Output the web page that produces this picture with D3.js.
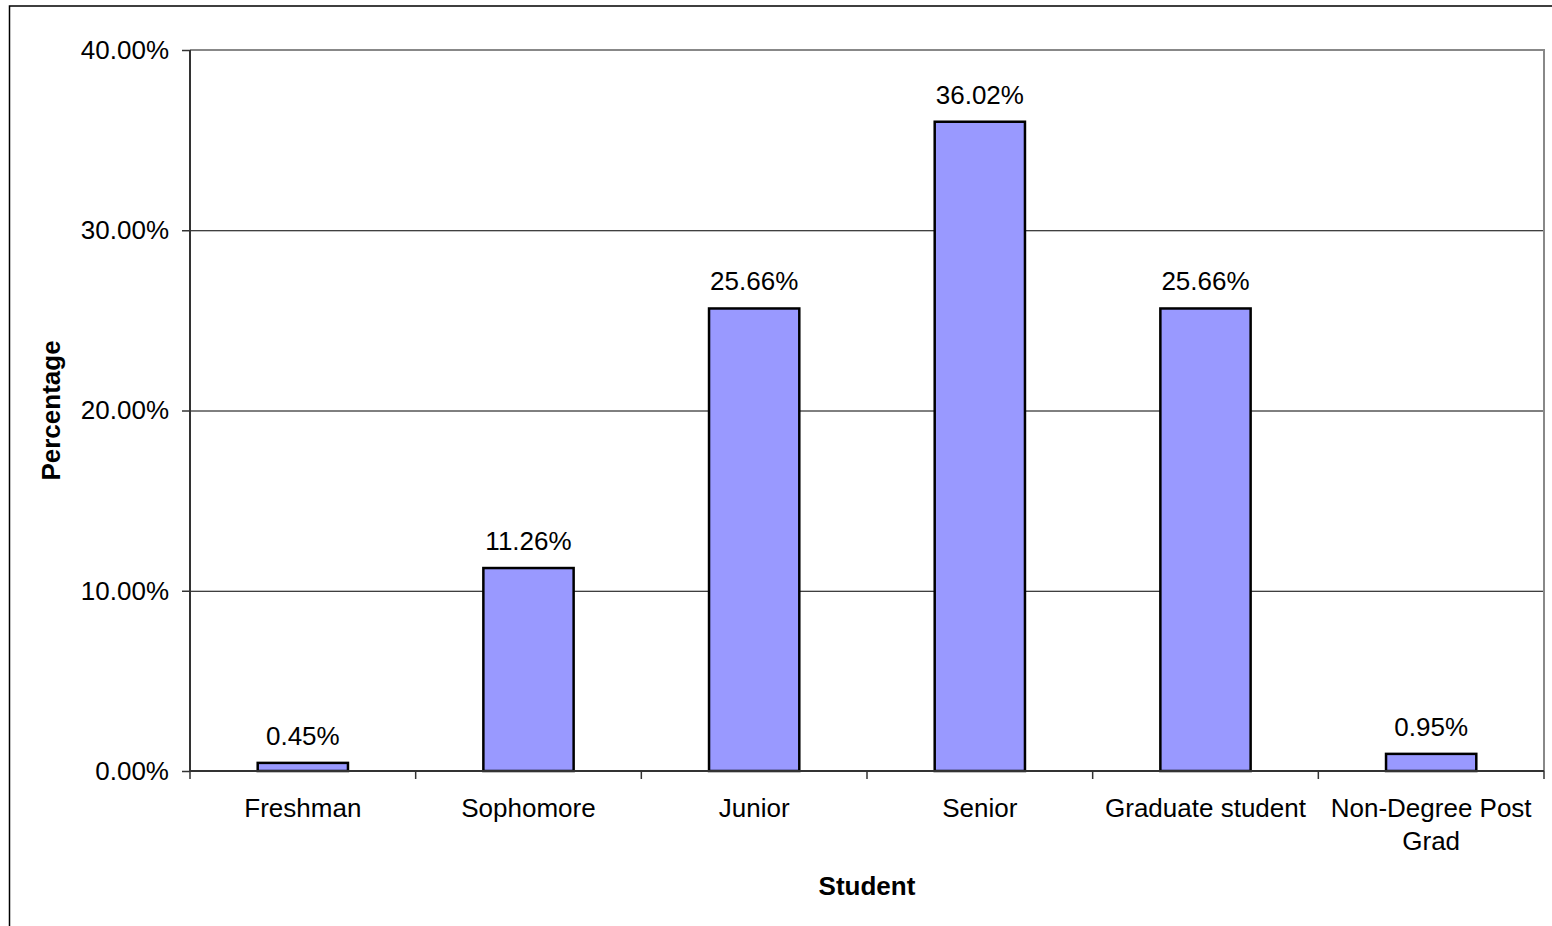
<!DOCTYPE html>
<html>
<head>
<meta charset="utf-8">
<script src="https://cdn.jsdelivr.net/npm/d3@7"></script>
<style>
  html, body { margin: 0; padding: 0; background: #fff; }
  svg { display: block; }
  text { font-family: "Liberation Sans", Arial, sans-serif; fill: #000; }
</style>
</head>
<body>
<svg id="chart" width="1552" height="926"></svg>
<script>
// Share of respondents by student classification
const categories = [
  ["Freshman"],
  ["Sophomore"],
  ["Junior"],
  ["Senior"],
  ["Graduate student"],
  ["Non-Degree Post", "Grad"]
];
const values = [0.45, 11.26, 25.66, 36.02, 25.66, 0.95];
const yTicks = [0, 10, 20, 30, 40];
const yTickLabels = ["0.00%", "10.00%", "20.00%", "30.00%", "40.00%"];
const xTitle = "Student";
const yTitle = "Percentage";

const svg = d3.select("#chart");
const W = 1552, H = 926;
const plot = { left: 190, right: 1544, top: 50, bottom: 771 };
const fontSize = 26;

// outer chart frame (runs off the right and bottom edges)
svg.append("rect")
  .attr("x", 9.5).attr("y", 6)
  .attr("width", W).attr("height", H)
  .attr("fill", "#fff").attr("stroke", "#000").attr("stroke-width", 1.5);

const x = d3.scaleBand()
  .domain(d3.range(categories.length))
  .range([plot.left, plot.right])
  .paddingInner(0.6).paddingOuter(0.3);

const y = d3.scaleLinear().domain([0, 40]).range([plot.bottom, plot.top]);

// horizontal gridlines
svg.append("g").selectAll("line")
  .data(yTicks.filter(t => t > 0 && t < 40))
  .join("line")
  .attr("x1", plot.left).attr("x2", plot.right)
  .attr("y1", d => y(d) + 0.5).attr("y2", d => y(d) + 0.5)
  .attr("stroke", "#000").attr("stroke-width", 1);

// plot area border (top and right)
svg.append("path")
  .attr("d", `M${plot.left},${plot.top}H${plot.right}V${plot.bottom}`)
  .attr("fill", "none").attr("stroke", "#888").attr("stroke-width", 2);

// bars
svg.append("g").selectAll("rect")
  .data(values)
  .join("rect")
  .attr("x", (d, i) => x(i))
  .attr("y", d => y(d))
  .attr("width", x.bandwidth())
  .attr("height", d => y(0) - y(d))
  .attr("fill", "#9999FF")
  .attr("stroke", "#000").attr("stroke-width", 2.5);

// value labels
svg.append("g").selectAll("text")
  .data(values)
  .join("text")
  .attr("x", (d, i) => x(i) + x.bandwidth() / 2)
  .attr("y", d => y(d) - 18)
  .attr("text-anchor", "middle")
  .attr("font-size", fontSize)
  .text(d => d.toFixed(2) + "%");

// y axis
const yAxis = d3.axisLeft(y)
  .tickValues(yTicks)
  .tickFormat((d, i) => yTickLabels[i])
  .tickSize(8).tickPadding(13);
const gy = svg.append("g").attr("transform", `translate(${plot.left},0)`).call(yAxis);
gy.select(".domain").attr("stroke", "#333").attr("stroke-width", 2).attr("d", `M0,${plot.top}V${plot.bottom}`);
gy.selectAll(".tick line").attr("stroke", "#333").attr("stroke-width", 1.5);
gy.selectAll(".tick text")
  .attr("font-size", fontSize)
  .attr("font-family", "Liberation Sans, Arial, sans-serif")
  .attr("fill", "#000");

// x axis: ticks at category boundaries
const step = (plot.right - plot.left) / categories.length;
const boundaries = d3.range(categories.length + 1).map(i => plot.left + i * step);
svg.append("line")
  .attr("x1", plot.left).attr("x2", plot.right)
  .attr("y1", plot.bottom).attr("y2", plot.bottom)
  .attr("stroke", "#333").attr("stroke-width", 2);
svg.append("g").selectAll("line")
  .data(boundaries)
  .join("line")
  .attr("x1", d => d).attr("x2", d => d)
  .attr("y1", plot.bottom).attr("y2", plot.bottom + 8)
  .attr("stroke", "#333").attr("stroke-width", 1.5);

// category labels
const catText = svg.append("g").selectAll("text")
  .data(categories)
  .join("text")
  .attr("x", (d, i) => x(i) + x.bandwidth() / 2)
  .attr("y", 817)
  .attr("text-anchor", "middle")
  .attr("font-size", fontSize);
catText.selectAll("tspan")
  .data(d => d)
  .join("tspan")
  .attr("x", function () { return d3.select(this.parentNode).attr("x"); })
  .attr("dy", (d, i) => i === 0 ? 0 : 33)
  .text(d => d);

// axis titles
svg.append("text")
  .attr("x", (plot.left + plot.right) / 2)
  .attr("y", 895)
  .attr("text-anchor", "middle")
  .attr("font-size", fontSize)
  .attr("font-weight", "bold")
  .text(xTitle);

svg.append("text")
  .attr("transform", `translate(60,${(plot.top + plot.bottom) / 2}) rotate(-90)`)
  .attr("text-anchor", "middle")
  .attr("font-size", fontSize)
  .attr("font-weight", "bold")
  .text(yTitle);
</script>
</body>
</html>
